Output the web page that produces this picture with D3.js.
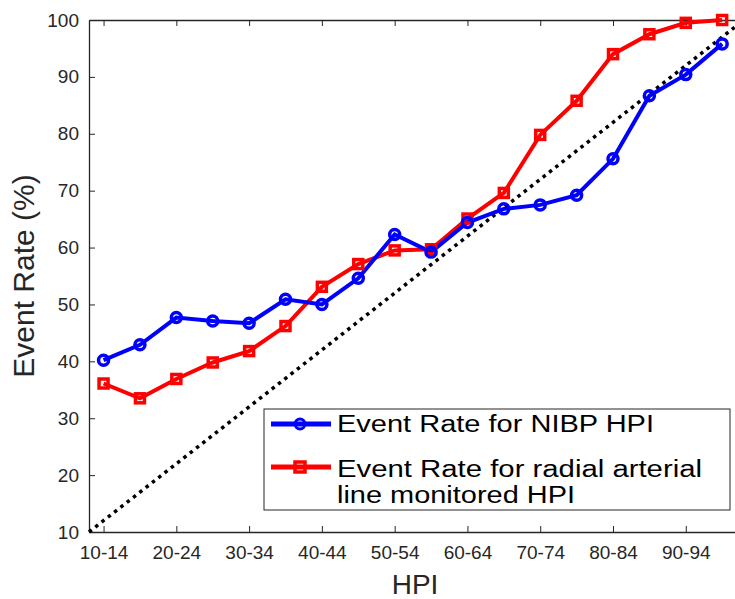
<!DOCTYPE html>
<html lang="en">
<head>
<meta charset="UTF-8">
<title>Event Rate vs HPI</title>
<script src="https://cdn.jsdelivr.net/npm/d3@7"></script>
<style>
    body { margin: 0; background: #fff; }
    svg { display: block; font-family: "Liberation Sans", Arial, sans-serif; }
    .axis path, .axis line { stroke: #262626; }
    .axis text { fill: #262626; font-size: 19px; }
</style>
</head>
<body>
<div id="chart"></div>
<script>
    /* global d3 */

    var categories = ["10-14", "15-19", "20-24", "25-29", "30-34", "35-39", "40-44", "45-49", "50-54",
        "55-59", "60-64", "65-69", "70-74", "75-79", "80-84", "85-89", "90-94", "95-99"];
    var nibp = [40.2, 42.9, 47.7, 47.1, 46.7, 50.9, 50.0, 54.6, 62.3,
        59.2, 64.4, 66.8, 67.5, 69.2, 75.6, 86.7, 90.4, 95.8];
    var arterial = [36.1, 33.5, 36.9, 39.8, 41.8, 46.2, 53.1, 57.1, 59.5,
        59.7, 65.1, 69.6, 79.8, 85.8, 94.0, 97.5, 99.5, 100.0];
    var tickLabels = ["10-14", "20-24", "30-34", "40-44", "50-54", "60-64", "70-74", "80-84", "90-94"];
    var yTicks = [10, 20, 30, 40, 50, 60, 70, 80, 90, 100];
    var seriesNames = ["Event Rate for NIBP HPI", "Event Rate for radial arterial line monitored HPI"];

    var width = 735, height = 599;
    var plotLeft = 89, plotTop = 20, plotBottom = 532;

    var svg = d3.select("#chart").append("svg")
        .attr("width", width)
        .attr("height", height);

    // HPI value -> px, the figure is cropped on the right like the original
    var x = d3.scaleLinear().domain([10, 100]).range([plotLeft, 744]);
    var y = d3.scaleLinear().domain([10, 100]).range([plotBottom, plotTop]);

    function mid(c) { return +c.split("-")[0] + 2; }

    // axes, MATLAB style inward ticks
    svg.append("g").attr("class", "axis")
        .attr("transform", "translate(0," + plotBottom + ")")
        .call(d3.axisBottom(x).tickValues(tickLabels.map(mid))
            .tickFormat(function (d, i) { return tickLabels[i]; })
            .tickSizeInner(-6).tickSizeOuter(0).tickPadding(14))
        .call(function (g) { g.select(".domain").attr("stroke-width", 1.3); });

    svg.append("g").attr("class", "axis")
        .attr("transform", "translate(0," + plotTop + ")")
        .call(d3.axisTop(x).tickValues(tickLabels.map(mid))
            .tickFormat("").tickSizeInner(-6).tickSizeOuter(0))
        .call(function (g) { g.select(".domain").attr("stroke-width", 1.3); });

    svg.append("g").attr("class", "axis")
        .attr("transform", "translate(" + plotLeft + ",0)")
        .call(d3.axisLeft(y).tickValues(yTicks)
            .tickSizeInner(-6).tickSizeOuter(0).tickPadding(10))
        .call(function (g) { g.select(".domain").attr("stroke-width", 1.3); });

    // diagonal reference
    svg.append("line")
        .attr("x1", x(10)).attr("y1", y(10))
        .attr("x2", x(100)).attr("y2", y(100))
        .attr("stroke", "#000")
        .attr("stroke-width", 3.5)
        .attr("stroke-dasharray", "3.5 4.5");

    var line = d3.line()
        .x(function (d, i) { return x(mid(categories[i])); })
        .y(function (d) { return y(d); });

    svg.append("path").datum(arterial)
        .attr("d", line).attr("fill", "none")
        .attr("stroke", "#ff0000").attr("stroke-width", 4);

    svg.append("path").datum(nibp)
        .attr("d", line).attr("fill", "none")
        .attr("stroke", "#0000ff").attr("stroke-width", 4);

    svg.append("g").selectAll("rect")
        .data(arterial)
        .enter().append("rect")
        .attr("x", function (d, i) { return x(mid(categories[i])) - 4.5; })
        .attr("y", function (d) { return y(d) - 4.5; })
        .attr("width", 9).attr("height", 9)
        .attr("fill", "none").attr("stroke", "#ff0000").attr("stroke-width", 3.5);

    svg.append("g").selectAll("circle")
        .data(nibp)
        .enter().append("circle")
        .attr("cx", function (d, i) { return x(mid(categories[i])); })
        .attr("cy", function (d) { return y(d); })
        .attr("r", 5)
        .attr("fill", "none").attr("stroke", "#0000ff").attr("stroke-width", 3.5);

    // axis titles
    svg.append("text")
        .attr("x", 415).attr("y", 594)
        .attr("text-anchor", "middle")
        .attr("font-size", 28).attr("fill", "#262626")
        .text("HPI");

    svg.append("text")
        .attr("transform", "translate(34,276) rotate(-90)")
        .attr("text-anchor", "middle")
        .attr("font-size", 30).attr("fill", "#262626")
        .text("Event Rate (%)");

    // legend
    var legend = svg.append("g");
    legend.append("rect")
        .attr("x", 264).attr("y", 409)
        .attr("width", 466).attr("height", 101)
        .attr("fill", "#fff").attr("stroke", "#262626").attr("stroke-width", 1);

    legend.append("line")
        .attr("x1", 271).attr("x2", 331).attr("y1", 424).attr("y2", 424)
        .attr("stroke", "#0000ff").attr("stroke-width", 5);
    legend.append("circle")
        .attr("cx", 300).attr("cy", 424).attr("r", 5)
        .attr("fill", "none").attr("stroke", "#0000ff").attr("stroke-width", 3);

    legend.append("line")
        .attr("x1", 271).attr("x2", 331).attr("y1", 467).attr("y2", 467)
        .attr("stroke", "#ff0000").attr("stroke-width", 5);
    legend.append("rect")
        .attr("x", 295).attr("y", 462).attr("width", 10).attr("height", 10)
        .attr("fill", "none").attr("stroke", "#ff0000").attr("stroke-width", 3.5);

    legend.append("text")
        .attr("x", 337).attr("y", 432)
        .attr("font-size", 23).attr("fill", "#000")
        .attr("textLength", 317).attr("lengthAdjust", "spacingAndGlyphs")
        .text(seriesNames[0]);

    var t2 = legend.append("text")
        .attr("font-size", 23).attr("fill", "#000");
    t2.append("tspan").attr("x", 337).attr("y", 477)
        .attr("textLength", 365).attr("lengthAdjust", "spacingAndGlyphs")
        .text("Event Rate for radial arterial");
    t2.append("tspan").attr("x", 337).attr("y", 503)
        .attr("textLength", 238).attr("lengthAdjust", "spacingAndGlyphs")
        .text("line monitored HPI");
</script>
</body>
</html>
